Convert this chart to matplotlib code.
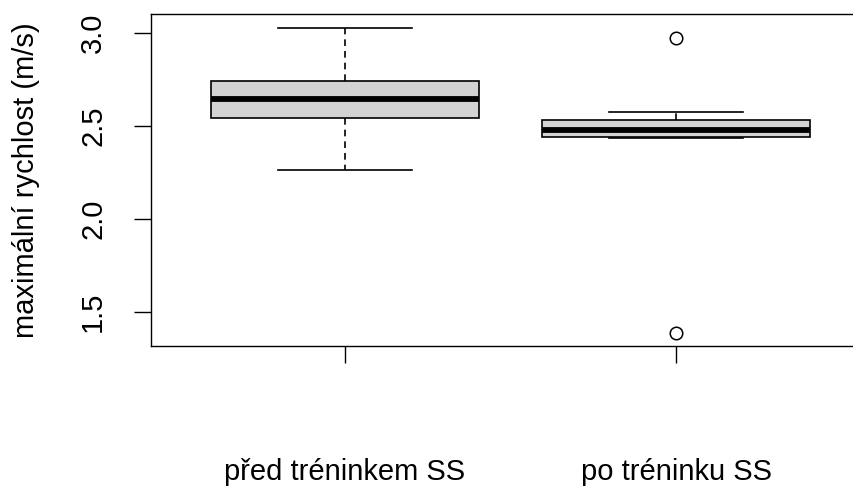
import matplotlib
matplotlib.use("Agg")
import matplotlib.pyplot as plt

plt.rcParams['font.family'] = ['Liberation Sans', 'DejaVu Sans']

groups = ["před tréninkem SS", "po tréninku SS"]
whislo = [2.265, 2.434]
q1 = [2.543, 2.441]
med = [2.647, 2.480]
q3 = [2.742, 2.534]
whishi = [3.028, 2.574]
outliers = [[], [2.975, 1.389]]
yticks = [1.5, 2.0, 2.5, 3.0]

stats = []
for i in range(len(groups)):
    stats.append({'label': groups[i], 'whislo': whislo[i], 'q1': q1[i], 'med': med[i],
                  'q3': q3[i], 'whishi': whishi[i], 'fliers': outliers[i]})

W, H = 854, 494
fig = plt.figure(figsize=(W / 100, H / 100), dpi=100)
# plot region (pixels): left 151, top 14, bottom 346, right runs off the image
ax = fig.add_axes([151 / W, (H - 346) / H, (868 - 151) / W, (346 - 14) / H])

ax.bxp(stats, positions=[1, 2], widths=0.81, patch_artist=True,
       boxprops=dict(facecolor='#d3d3d3', edgecolor='black', linewidth=1.2),
       medianprops=dict(color='black', linewidth=4.2, solid_capstyle='butt'),
       whiskerprops=dict(color='black', linewidth=1.2, linestyle=(0, (4, 3))),
       capprops=dict(color='black', linewidth=1.2),
       flierprops=dict(marker='o', markerfacecolor='none', markeredgecolor='black',
                       markersize=9, markeredgewidth=1.1),
       capwidths=0.405)

ax.set_xlim(0.414, 2.58)
ax.set_ylim(1.317, 3.102)
ax.set_yticks(yticks)
ax.set_yticklabels([f"{v:.1f}" for v in yticks], rotation=90, va='center', fontsize=21)
ax.set_xticks([1, 2])
ax.set_xticklabels(groups, fontsize=21)
ax.tick_params(axis='y', length=12.5, width=1.0, pad=19)
ax.tick_params(axis='x', length=12.5, width=1.0, pad=68)
ax.set_ylabel("maximální rychlost (m/s)", fontsize=21, labelpad=28)
for s in ax.spines.values():
    s.set_linewidth(1.0)

plt.savefig("out.png", dpi=100)
plt.close()
